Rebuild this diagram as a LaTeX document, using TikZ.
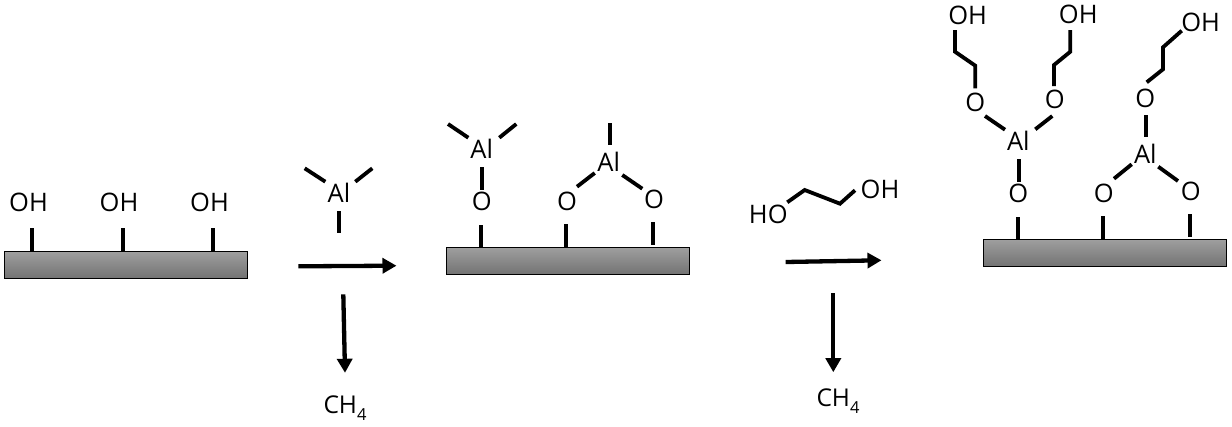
\documentclass[tikz,border=0pt]{standalone}
\usepackage{fontspec}
\setmainfont{Open Sans}
\usetikzlibrary{arrows.meta}
\tikzset{
  x=1pt,y=-1pt,
  bondline/.style={line width=3.8pt,line cap=butt,line join=miter,black},
  label/.style={font=\fontsize{25.5}{25.5}\selectfont,inner sep=0pt,text=black},
  small/.style={font=\fontsize{24.5}{24.5}\selectfont,inner sep=0pt,text=black,anchor=base},
  surface/.style={draw=black,line width=1pt,top color=black!38,bottom color=black!55,minimum width=242.6pt,minimum height=26.7pt,inner sep=0pt,outer sep=0pt,anchor=north west},
  rxnarrow/.style={line width=4.3pt,black,-{Triangle[length=14pt,width=15pt]},shorten >=-0.5pt},
}
% \bond{name}{x1,y1}{x2,y2}
\newcommand{\bond}[3]{\coordinate (#1a) at (#2);\coordinate (#1b) at (#3);\draw[bondline] (#1a) -- (#1b);}
\newcommand{\chain}[5]{\coordinate (#1a) at (#2);\coordinate (#1b) at (#3);\coordinate (#1c) at (#4);\coordinate (#1d) at (#5);\draw[bondline] (#1a) -- (#1b) -- (#1c) -- (#1d);}
\begin{document}
\begin{tikzpicture}
\useasboundingbox (0,0) rectangle (1232,426);
% surfaces
\node[surface] (s1) at (4.7,251.7) {};
\node[surface] (s2) at (446.7,247.7) {};
\node[surface] (s3) at (983.7,239.7) {};
% surface 1
\bond{p1}{32,228}{32,251.3}
\bond{p2}{123,228}{123,251.3}
\bond{p3}{213,228}{213,251.3}
\node[label] (oh1) at (28.5,202) {OH};
\node[label] (oh2) at (119,202) {OH};
\node[label] (oh3) at (209.5,202) {OH};
% TMA
\node[label] (al0) at (339,193) {Al};
\bond{t1}{304.7,168.3}{325.3,181.7}
\bond{t2}{372.3,168.3}{355.3,181.7}
\bond{t3}{339,211}{339,233.3}
% arrows
\coordinate (a1s) at (298.3,266.3); \coordinate (a1e) at (396,265.7);
\draw[rxnarrow] (a1s) -- (a1e);
\coordinate (a2s) at (343.3,294.3); \coordinate (a2e) at (345,372.3);
\draw[rxnarrow] (a2s) -- (a2e);
\coordinate (a3s) at (785.7,262); \coordinate (a3e) at (881,260.3);
\draw[rxnarrow] (a3s) -- (a3e);
\coordinate (a4s) at (833.3,293.3); \coordinate (a4e) at (833.3,371.7);
\draw[rxnarrow] (a4s) -- (a4e);
\node[small] (ch1) at (345,413) {CH\raisebox{-0.3em}{\fontsize{16.5}{16.5}\selectfont 4}};
\node[small] (ch2) at (838,406) {CH\raisebox{-0.3em}{\fontsize{16.5}{16.5}\selectfont 4}};
% surface 2
\bond{q1}{481,225}{481,247.3}
\bond{q2}{566,224}{566,247.3}
\bond{q3}{652.7,222}{652.7,244.7}
\node[label] (o1) at (481.7,201) {O};
\node[label] (o2) at (567,201) {O};
\node[label] (o3) at (654,199.5) {O};
\node[label] (al1) at (481.7,148.5) {Al};
\node[label] (al2) at (608.7,162) {Al};
\bond{u1}{448,124}{468.3,137.7}
\bond{u2}{516.3,124}{499.3,137.7}
\bond{u3}{482.3,167.3}{482.3,190}
\bond{v1}{610,123.3}{610,145}
\bond{v2}{594.7,173}{577,186.7}
\bond{v3}{622.3,175}{642.3,188.7}
% glycol
\node[label] (ho) at (768.3,214.5) {HO};
\node[label] (ohg) at (880,189.5) {OH};
\chain{g}{787.3,202.3}{804.7,190}{840,203.7}{855,190.3}
% surface 3
\bond{r1}{1018,217}{1018,239.3}
\bond{r2}{1103,216}{1103,239.3}
\bond{r3}{1190,214}{1190,236.7}
\node[label] (o4) at (1018.3,193) {O};
\node[label] (o5) at (1103.7,193) {O};
\node[label] (o6) at (1190.7,191) {O};
\node[label] (al3) at (1018.3,141) {Al};
\node[label] (al4) at (1145.3,153.5) {Al};
\bond{w1}{1019,159}{1019,181.7}
\bond{w2}{1005,129.7}{985,116}
\bond{w3}{1035.3,129.3}{1052.3,116}
\bond{w4}{1146,115}{1146,137.3}
\bond{w5}{1131.7,164.3}{1114,178.7}
\bond{w6}{1158.3,166.7}{1178,181}
\node[label] (o7) at (975.3,102) {O};
\node[label] (o8) at (1054.7,99.5) {O};
\node[label] (o9) at (1145.3,98) {O};
\chain{c1}{975.3,88.3}{975.3,65.7}{955,51.7}{955,30}
\chain{c2}{1054,86}{1054,65}{1070.3,51.7}{1070.3,30}
\chain{c3}{1146.7,82.3}{1163,69.3}{1163,47.3}{1181.7,30.7}
\node[label] (oh4) at (967.7,15.5) {OH};
\node[label] (oh5) at (1078.3,14) {OH};
\node[label] (oh6) at (1200.7,22.7) {OH};
\end{tikzpicture}
\end{document}
